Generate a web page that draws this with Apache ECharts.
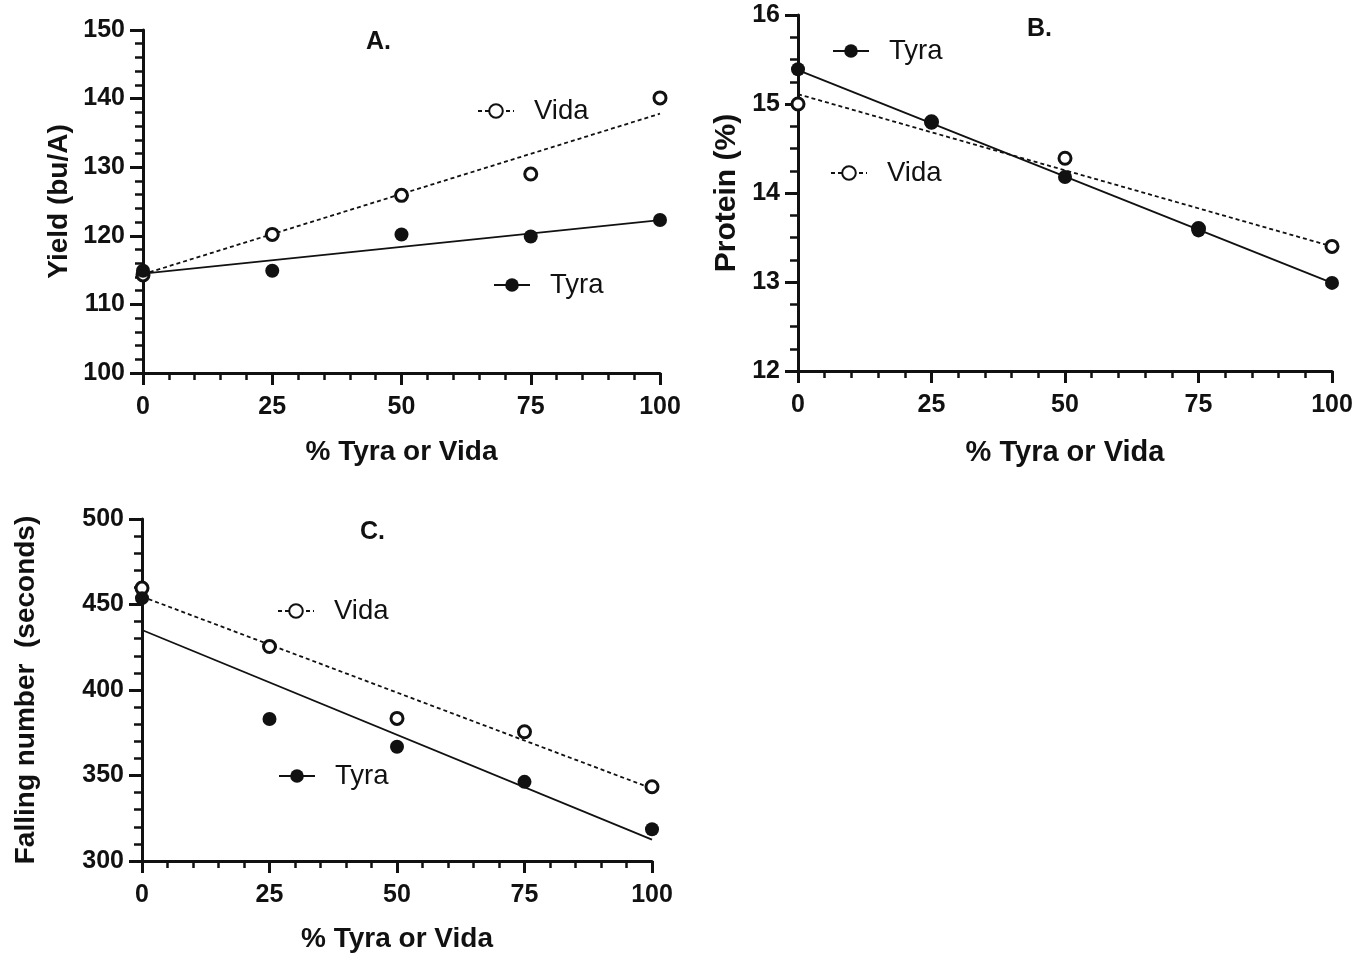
<!DOCTYPE html>
<html>
<head>
<meta charset="utf-8">
<title>Tyra / Vida</title>
<script src="https://cdn.jsdelivr.net/npm/echarts@6/dist/echarts.min.js"></script>
<style>
  html, body { margin: 0; padding: 0; background: #fff; }
  #chart { width: 1372px; height: 957px; }
</style>
</head>
<body>
<div id="chart"></div>
<script>
// % Tyra or Vida in the blend
const xPct = [0, 25, 50, 75, 100];
const fitX = [0, 100];

// A. yield (bu/A)
const yieldTyra = [114.9, 114.9, 120.2, 119.9, 122.3];
const yieldVida = [114.3, 120.2, 125.9, 129.0, 140.1];
const yieldTyraFit = [114.5, 122.3];
const yieldVidaFit = [114.4, 137.8];

// B. protein (%)
const proteinTyra = [15.39, 14.79, 14.18, 13.58, 12.99];
const proteinVida = [15.0, 14.8, 14.39, 13.6, 13.4];
const proteinTyraFit = [15.38, 12.99];
const proteinVidaFit = [15.11, 13.4];

// C. falling number (seconds)
const fallTyra = [453.7, 383, 366.8, 346.3, 318.6];
const fallVida = [459.6, 425.4, 383.4, 375.6, 343.4];
const fallTyraFit = [435.1, 312.5];
const fallVidaFit = [454.6, 342.4];

const FONT = "'Liberation Sans', Arial, sans-serif";
const INK = '#111';

const pairs = (xs, ys) => xs.map((x, i) => [x, ys[i]]);

const fitLine = (name, idx, ys, dashed) => ({
  name: name,
  type: 'line',
  xAxisIndex: idx,
  yAxisIndex: idx,
  data: pairs(fitX, ys),
  symbol: dashed ? 'emptyCircle' : 'circle',
  showSymbol: false,
  silent: true,
  color: INK,
  lineStyle: { color: INK, width: 1.8, type: dashed ? [4, 3] : 'solid' },
  z: 2
});

const dots = (name, idx, ys, open) => ({
  name: name,
  type: 'scatter',
  xAxisIndex: idx,
  yAxisIndex: idx,
  data: pairs(xPct, ys),
  symbol: 'circle',
  symbolSize: open ? 12 : 14,
  silent: true,
  itemStyle: open
    ? { color: '#fff', borderColor: INK, borderWidth: 3, opacity: 1 }
    : { color: INK, opacity: 1 },
  z: open ? 3 : 4
});

const xAxisOf = (idx, fs, nameFs, gap) => ({
  type: 'value',
  gridIndex: idx,
  min: 0, max: 100, interval: 25,
  name: '% Tyra or Vida',
  nameLocation: 'middle',
  nameGap: gap,
  nameTextStyle: { fontFamily: FONT, fontSize: nameFs, fontWeight: 'bold', color: INK },
  axisLine: { lineStyle: { color: INK, width: 3 } },
  axisTick: { show: true, length: 12, lineStyle: { color: INK, width: 3 } },
  minorTick: { show: true, splitNumber: 5, length: 7, lineStyle: { color: INK, width: 2.5 } },
  axisLabel: { fontFamily: FONT, fontSize: fs, fontWeight: 'bold', color: INK, margin: 22 },
  splitLine: { show: false },
  minorSplitLine: { show: false }
});

const yAxisOf = (idx, name, min, max, step, minorSplit, fs, nameFs, gap) => ({
  type: 'value',
  gridIndex: idx,
  min: min, max: max, interval: step,
  name: name,
  nameLocation: 'middle',
  nameRotate: 90,
  nameGap: gap,
  nameTextStyle: { fontFamily: FONT, fontSize: nameFs, fontWeight: 'bold', color: INK },
  axisLine: { show: true, lineStyle: { color: INK, width: 3 } },
  axisTick: { show: true, length: 13, lineStyle: { color: INK, width: 3 } },
  minorTick: { show: true, splitNumber: minorSplit, length: 8, lineStyle: { color: INK, width: 2.5 } },
  axisLabel: { fontFamily: FONT, fontSize: fs, fontWeight: 'bold', color: INK, margin: 18 },
  splitLine: { show: false },
  minorSplitLine: { show: false }
});

const inlineLegend = (name, left, top) => ({
  data: [name],
  left: left,
  top: top,
  padding: 0,
  selectedMode: false,
  itemWidth: 36,
  itemHeight: 17,
  lineStyle: { width: 2 },
  formatter: n => '{t|' + n + '}',
  textStyle: {
    color: INK,
    rich: { t: { fontFamily: FONT, fontSize: 27.5, color: INK, padding: [0, 0, 0, 15] } }
  }
});

const chart = echarts.init(document.getElementById('chart'));

chart.setOption({
  animation: false,
  backgroundColor: '#fff',
  title: [
    { text: 'A.', left: 366, top: 30, padding: 0, textStyle: { fontFamily: FONT, fontSize: 25, fontWeight: 'bold', color: INK } },
    { text: 'B.', left: 1027, top: 17, padding: 0, textStyle: { fontFamily: FONT, fontSize: 25, fontWeight: 'bold', color: INK } },
    { text: 'C.', left: 360, top: 520, padding: 0, textStyle: { fontFamily: FONT, fontSize: 25, fontWeight: 'bold', color: INK } }
  ],
  grid: [
    { left: 143, top: 30, width: 517, height: 343, outerBoundsMode: 'none' },
    { left: 798, top: 15, width: 534, height: 356, outerBoundsMode: 'none' },
    { left: 142, top: 519, width: 510, height: 342, outerBoundsMode: 'none' }
  ],
  xAxis: [
    xAxisOf(0, 25, 28, 65),
    xAxisOf(1, 25, 29, 67),
    xAxisOf(2, 25, 28, 64)
  ],
  yAxis: [
    yAxisOf(0, 'Yield (bu/A)', 100, 150, 10, 5, 25, 28, 70),
    yAxisOf(1, 'Protein (%)', 12, 16, 1, 4, 25, 30, 56),
    yAxisOf(2, 'Falling number  (seconds)', 300, 500, 50, 5, 25, 28, 102)
  ],
  legend: [
    inlineLegend('Vida', 477, 97),
    inlineLegend('Tyra', 493, 271),
    inlineLegend('Tyra', 832, 37),
    inlineLegend('Vida', 830, 159),
    inlineLegend('Vida', 277, 597),
    inlineLegend('Tyra', 278, 762)
  ],
  series: [
    fitLine('Vida', 0, yieldVidaFit, true),
    fitLine('Tyra', 0, yieldTyraFit, false),
    fitLine('Vida', 1, proteinVidaFit, true),
    fitLine('Tyra', 1, proteinTyraFit, false),
    fitLine('Vida', 2, fallVidaFit, true),
    fitLine('Tyra', 2, fallTyraFit, false),
    dots('Vida', 0, yieldVida, true),
    dots('Tyra', 0, yieldTyra, false),
    dots('Vida', 1, proteinVida, true),
    dots('Tyra', 1, proteinTyra, false),
    dots('Vida', 2, fallVida, true),
    dots('Tyra', 2, fallTyra, false)
  ]
});
</script>
</body>
</html>
